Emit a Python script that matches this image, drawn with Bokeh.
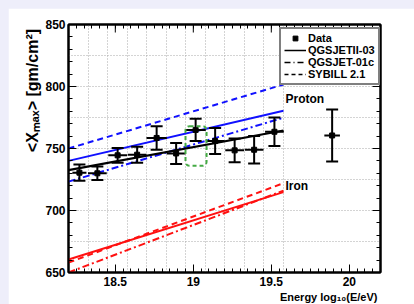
import numpy as np
from bokeh.plotting import figure
from bokeh.models import (LinearAxis, FixedTicker, NumeralTickFormatter,
                          Label, Legend, LegendItem, Range1d, Title)
from bokeh.embed import file_html
from bokeh.resources import INLINE

# ---------------- data ----------------
energy = [18.27, 18.385, 18.515, 18.64, 18.765, 18.89, 19.015, 19.14, 19.265, 19.39, 19.52, 19.89]
energy_err = [0.045, 0.06, 0.06, 0.06, 0.065, 0.06, 0.065, 0.06, 0.06, 0.06, 0.06, 0.05]
xmax = [730.5, 730.0, 744.5, 745.0, 758.5, 746.0, 765.0, 756.0, 748.5, 749.0, 763.5, 760.5]
xmax_err = [6.5, 5.5, 6.0, 6.5, 9.5, 8.5, 9.0, 10.5, 9.5, 11.0, 11.5, 21.0]

model_energy = [18.2, 19.578]
proton_qgsjetII = [740.0, 780.5]
proton_qgsjet01 = [723.3, 774.8]
proton_sibyll = [750.0, 801.6]
iron_qgsjetII = [660.5, 714.8]
iron_qgsjet01 = [650.0, 716.0]
iron_sibyll = [658.0, 722.0]
fit_xmax = [732.5, 764.5]

box_energy = [18.95, 19.085]
box_xmax = [736.0, 768.0]

x_major = [18.5, 19.0, 19.5, 20.0]
x_minor = [round(18.2 + 0.05 * i, 2) for i in range(41)]
y_major = [650, 700, 750, 800, 850]
y_minor = list(range(650, 851, 10))
grid_x = [18.328, 18.453, 18.578, 18.703, 18.828, 18.953, 19.078, 19.203, 19.328, 19.453, 19.578]
grid_y = [675, 700, 725, 750, 775, 800, 825]

legend_labels = ["Data", "QGSJETII-03", "QGSJET-01c", "SYBILL 2.1"]
x_title = "Energy  log\u2081\u2080(E/eV)"
y_title = "<X\u2098\u2090\u2093>  [gm/cm\u00b2]"

FONT = "Liberation Sans"

# ---------------- figure ----------------
X0, X1, Y0, Y1 = 18.2, 20.2, 650, 850
FRAME_W, FRAME_H = 312, 248
p = figure(frame_width=FRAME_W, frame_height=FRAME_H, output_backend="svg", toolbar_location=None,
           x_range=Range1d(X0, X1), y_range=Range1d(Y0, Y1),
           min_border_left=60, min_border_right=34, min_border_top=16, min_border_bottom=32,
           background_fill_color="white", border_fill_color="white",
           outline_line_color="black", outline_line_width=2)

def style_axis(ax):
    ax.axis_line_width = 2
    ax.axis_line_color = "black"
    ax.major_tick_in = 8
    ax.major_tick_out = 0
    ax.minor_tick_in = 4
    ax.minor_tick_out = 0
    ax.major_tick_line_color = "black"
    ax.minor_tick_line_color = "black"
    ax.major_label_text_font = FONT
    ax.major_label_text_font_style = "bold"
    ax.major_label_text_color = "black"
    ax.major_label_text_font_size = "12px"

xa = p.xaxis[0]
xa.ticker = FixedTicker(ticks=x_major, minor_ticks=x_minor)
xa.formatter = NumeralTickFormatter(format="0.[0]")
style_axis(xa)
xa.major_label_standoff = 4

ya = p.yaxis[0]
ya.ticker = FixedTicker(ticks=y_major, minor_ticks=y_minor)
style_axis(ya)
ya.major_label_standoff = 3

# opposite axes: minor ticks only (no labels); major ticks drawn as short segments
top = LinearAxis(ticker=FixedTicker(ticks=[], minor_ticks=x_minor))
style_axis(top)
p.add_layout(top, "above")
right = LinearAxis(ticker=FixedTicker(ticks=[], minor_ticks=y_minor))
style_axis(right)
p.add_layout(right, "right")

tick_dy = 8 * (Y1 - Y0) / FRAME_H
tick_dx = 8 * (X1 - X0) / FRAME_W
p.segment(x0=x_major, y0=[Y1] * len(x_major), x1=x_major, y1=[Y1 - tick_dy] * len(x_major),
          color="black", line_width=1)
p.segment(x0=[X1] * len(y_major), y0=y_major, x1=[X1 - tick_dx] * len(y_major), y1=y_major,
          color="black", line_width=1)

# axis titles (ROOT style: right / top aligned)
p.add_layout(Title(text=x_title, align="right", text_font=FONT, text_font_style="bold",
                   text_font_size="11px", text_color="black", standoff=0), "below")
p.add_layout(Title(text=y_title, align="right", text_font=FONT, text_font_style="bold",
                   text_font_size="16px", text_color="black", standoff=4), "left")

p.xgrid.ticker = FixedTicker(ticks=grid_x)
p.ygrid.ticker = FixedTicker(ticks=grid_y)
for g in (p.xgrid, p.ygrid):
    g.grid_line_color = "#a8a8a8"
    g.grid_line_dash = "1 2"
    g.grid_line_width = 1

# ---------------- model lines ----------------
BLUE, RED = "#1010ff", "#ff1010"
DASH, DASHDOT = "6 4", "7 3 2 3"
p.line(model_energy, proton_qgsjetII, color=BLUE, line_width=2)
p.line(model_energy, proton_qgsjet01, color=BLUE, line_width=2, line_dash=DASHDOT)
p.line(model_energy, proton_sibyll, color=BLUE, line_width=2, line_dash=DASH)
p.line(model_energy, iron_qgsjetII, color=RED, line_width=2)
p.line(model_energy, iron_qgsjet01, color=RED, line_width=2, line_dash=DASHDOT)
p.line(model_energy, iron_sibyll, color=RED, line_width=2, line_dash=DASH)

# fit line
p.line(model_energy, fit_xmax, color="black", line_width=2.2)

# ---------------- data with error bars ----------------
e = np.array(energy); ee = np.array(energy_err)
y = np.array(xmax); ye = np.array(xmax_err)
p.segment(x0=e, y0=y - ye, x1=e, y1=y + ye, color="black", line_width=2)
p.segment(x0=e - ee, y0=y, x1=e + ee, y1=y, color="black", line_width=2)
p.scatter(np.concatenate([e, e]), np.concatenate([y - ye, y + ye]), marker="dash",
          size=12, line_width=2, color="black")
data_r = p.scatter(energy, xmax, marker="square", size=5, color="black")

# green highlight box
p.quad(left=[box_energy[0]], right=[box_energy[1]], bottom=[box_xmax[0]], top=[box_xmax[1]],
       fill_alpha=0, line_color="#44aa44", line_width=2, line_dash="4 3", border_radius=4)

# ---------------- legend ----------------
nan = [float("nan")]
r_solid = p.line(nan, nan, color="black", line_width=1.5)
r_dd = p.line(nan, nan, color="black", line_width=1.5, line_dash="6 3 1 3")
r_d = p.line(nan, nan, color="black", line_width=1.5, line_dash="4 3")
legend = Legend(items=[LegendItem(label=legend_labels[0], renderers=[data_r]),
                       LegendItem(label=legend_labels[1], renderers=[r_solid]),
                       LegendItem(label=legend_labels[2], renderers=[r_dd]),
                       LegendItem(label=legend_labels[3], renderers=[r_d])],
                location=(211, 187), label_text_font=FONT, label_text_font_style="bold",
                label_text_font_size="11px", label_text_color="black",
                glyph_width=22, glyph_height=12, label_height=12, label_standoff=2,
                spacing=0, padding=3, margin=0,
                border_line_color="black", border_line_width=2,
                background_fill_color="white", background_fill_alpha=1.0)
p.add_layout(legend)

# ---------------- in-plot texts ----------------
p.add_layout(Label(x=19.578, y=784.0, text="Proton", text_font=FONT, text_font_style="bold",
                   text_font_size="12px", text_color="black", x_offset=2))
p.add_layout(Label(x=19.578, y=714.5, text="Iron", text_font=FONT, text_font_style="bold",
                   text_font_size="12px", text_color="black", x_offset=2))

template = """{% block postamble %}<style>html { background: #eeeefa !important; overflow: hidden; } body { margin: 8px 0 0 8px !important; background: #eeeefa !important; height: auto !important; }</style>{% endblock %}"""
open("out.html", "w").write(file_html(p, INLINE, title="Xmax", template=template))
